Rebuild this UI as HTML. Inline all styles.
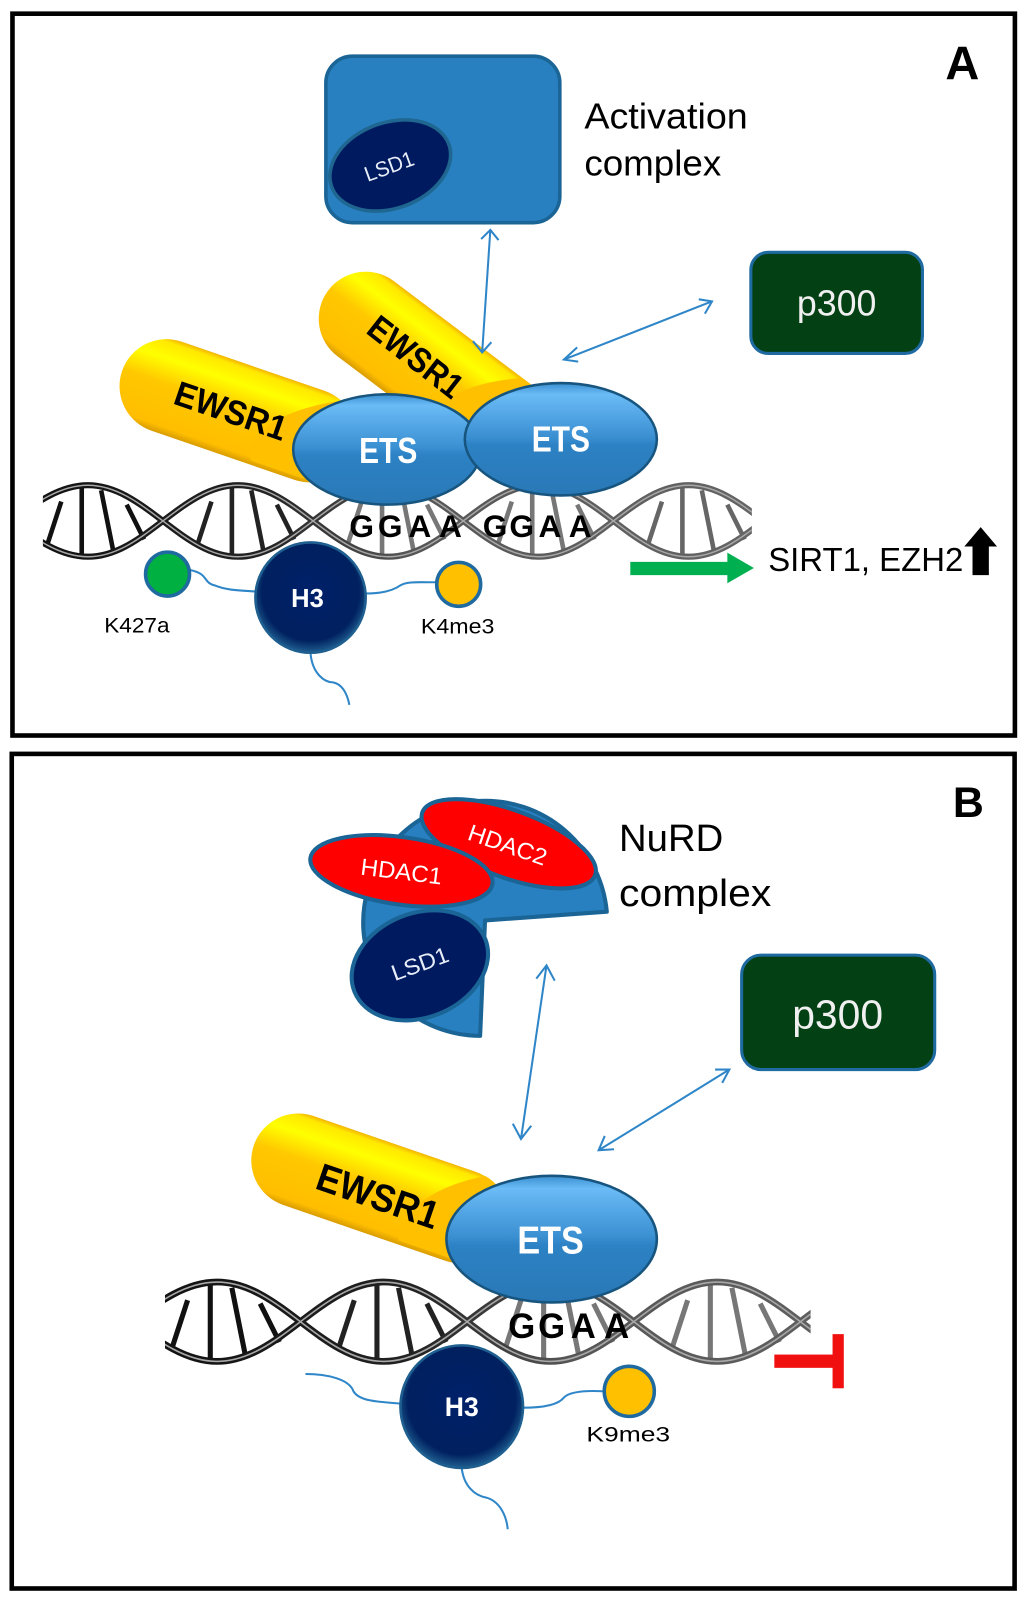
<!DOCTYPE html>
<html><head><meta charset="utf-8"><style>
html,body{margin:0;padding:0;background:#fff}
svg{display:block}
text{font-family:"Liberation Sans",sans-serif}
</style></head><body>
<svg width="1024" height="1603" viewBox="0 0 1002.4 1569.2" xmlns="http://www.w3.org/2000/svg">
<defs>
<linearGradient id="y" x1="0" y1="0" x2="0" y2="1">
<stop offset="0" stop-color="#f2b400"/><stop offset=".05" stop-color="#ffe800"/><stop offset=".22" stop-color="#ffff00"/><stop offset=".48" stop-color="#ffc800"/><stop offset=".92" stop-color="#ffbe00"/><stop offset="1" stop-color="#d89c00"/>
</linearGradient>
<linearGradient id="e" x1="0" y1="0" x2="0" y2="1">
<stop offset="0" stop-color="#3a8fd0"/><stop offset=".1" stop-color="#6abbf6"/><stop offset=".48" stop-color="#3b90d2"/><stop offset=".55" stop-color="#2c82c4"/><stop offset="1" stop-color="#2a78b6"/>
</linearGradient>
<radialGradient id="h" cx=".5" cy=".45" r=".55">
<stop offset="0" stop-color="#00206a"/><stop offset=".8" stop-color="#00205f"/><stop offset="1" stop-color="#1f5f90"/>
</radialGradient>
<linearGradient id="dg" gradientUnits="userSpaceOnUse" x1="-50" y1="0" x2="700" y2="0">
<stop offset="0" stop-color="#111"/><stop offset=".3" stop-color="#222"/><stop offset=".48" stop-color="#555"/><stop offset="1" stop-color="#666"/>
</linearGradient>
<clipPath id="ca"><rect x="42" y="465" width="694" height="90"/></clipPath>
<clipPath id="cb"><rect x="161.5" y="1240" width="632" height="100"/></clipPath>
<clipPath id="c1"><rect x="-46" y="-46" width="240" height="88" rx="44" transform="translate(163,378) rotate(19)"/></clipPath>
<clipPath id="c2"><rect x="-46" y="-46" width="260" height="88" rx="44" transform="translate(358,312) rotate(37)"/></clipPath>
<clipPath id="c3"><rect x="-46" y="-46" width="260" height="88" rx="44" transform="translate(292,1136) rotate(19)"/></clipPath>
<path id="rungs" fill="none" stroke-width="4.5" d="M-26,-19L-40,24M-6,-33V33M13,-30L25,30M38,-16L55,18"/>
<path id="s1" fill="none" d="M-150,0 C-95,0 -55,70 0,70 C55,70 92,0 147,0 C202,0 239,70 294,70 C349,70 386,0 441,0 C496,0 533,70 588,70 C643,70 680,0 735,0 C790,0 827,70 882,70"/>
<path id="s2" fill="none" d="M-150,70 C-95,70 -55,0 0,0 C55,0 92,70 147,70 C202,70 239,0 294,0 C349,0 386,70 441,70 C496,70 533,0 588,0 C643,0 680,70 735,70 C790,70 827,0 882,0"/>
<g id="dna">
<use href="#rungs" x="0" y="35" stroke="#111"/>
<use href="#rungs" x="147" y="35" stroke="#222"/>
<use href="#rungs" x="294" y="35" stroke="#777"/>
<use href="#rungs" x="441" y="35" stroke="#777"/>
<use href="#rungs" x="588" y="35" stroke="#666"/>
<use href="#rungs" x="735" y="35" stroke="#666"/>
<use href="#s1" stroke="url(#dg)" stroke-width="6"/>
<use href="#s2" stroke="url(#dg)" stroke-width="6"/>
<use href="#s1" stroke="#a8a8a8" stroke-width="1.4"/>
<use href="#s2" stroke="#a8a8a8" stroke-width="1.4"/>
</g>
</defs>
<rect width="1003" height="1570" fill="#fff"/>
<rect x="12.2" y="13.4" width="981.3" height="706.6" fill="none" stroke="#000" stroke-width="4.5"/>
<rect x="11.5" y="738" width="981.7" height="817" fill="none" stroke="#000" stroke-width="4.5"/>
<text x="942" y="78" font-size="46" font-weight="bold" text-anchor="middle">A</text>
<text x="948" y="800" font-size="42" font-weight="bold" text-anchor="middle">B</text>

<!-- Panel A -->
<rect x="319" y="55" width="229" height="163" rx="26" fill="#2880c0" stroke="#1a6496" stroke-width="3.5"/>
<ellipse cx="382" cy="162" rx="61" ry="42" transform="rotate(-20 382 162)" fill="#001a60" stroke="#1f6690" stroke-width="3.5"/>
<text x="381" y="170" font-size="21" fill="#e8eef8" text-anchor="middle" textLength="50" lengthAdjust="spacingAndGlyphs" transform="rotate(-20 381 163)">LSD1</text>
<text x="572" y="126" font-size="35" textLength="160" lengthAdjust="spacingAndGlyphs">Activation</text>
<text x="572" y="172" font-size="35" textLength="134" lengthAdjust="spacingAndGlyphs">complex</text>
<rect x="735" y="247" width="168" height="99" rx="17" fill="#034114" stroke="#1f6aa0" stroke-width="3"/>
<text x="819" y="309" font-size="35" fill="#f0f0f0" text-anchor="middle">p300</text>

<g clip-path="url(#ca)"><use href="#dna" transform="translate(86,475)"/></g>
<text x="354 382 411 441 484.6 510.7 538.4 568" y="525.7" font-size="31" font-weight="bold" text-anchor="middle" fill="#000">GGAAGGAA</text>

<g transform="translate(163,378) rotate(19)"><rect x="-46" y="-46" width="240" height="92" rx="46" fill="url(#y)"/></g>
<g clip-path="url(#c1)"><ellipse cx="370" cy="445" rx="125" ry="55" fill="#ffc000"/></g>
<text x="226" y="414" font-size="34" font-weight="bold" text-anchor="middle" textLength="114" lengthAdjust="spacingAndGlyphs" transform="rotate(19 226 402)">EWSR1</text>
<g transform="translate(358,312) rotate(37)"><rect x="-46" y="-46" width="260" height="92" rx="46" fill="url(#y)"/></g>
<g clip-path="url(#c2)"><ellipse cx="520" cy="445" rx="120" ry="75" fill="#ffc000"/></g>
<text x="407" y="361" font-size="34" font-weight="bold" text-anchor="middle" textLength="108" lengthAdjust="spacingAndGlyphs" transform="rotate(38 407 349)">EWSR1</text>
<ellipse cx="379" cy="440" rx="92" ry="54" fill="url(#e)" stroke="#17557f" stroke-width="2.5"/>
<text x="380" y="453" font-size="35" font-weight="bold" fill="#fff" text-anchor="middle" textLength="57" lengthAdjust="spacingAndGlyphs">ETS</text>
<ellipse cx="549" cy="430" rx="94" ry="55" fill="url(#e)" stroke="#17557f" stroke-width="2.5"/>
<text x="549" y="442" font-size="35" font-weight="bold" fill="#fff" text-anchor="middle" textLength="57" lengthAdjust="spacingAndGlyphs">ETS</text>

<g stroke="#2e86c8" stroke-width="2" fill="none">
<path d="M480,225L472,345M471,234L480,225L488,235M463,334L472,345L481,335"/>
<path d="M697,295L552,352M684,293L697,295L690,307M565,340L552,352L566,354"/>
<path d="M186,558C205,562 198,570 210,573C222,578 235,578 250,579"/>
<path d="M358,581C375,581 385,578 392,573C398,569 410,570 427,570"/>
<path d="M304,640C306,660 318,668 326,668C336,670 340,680 342,690"/>
</g>
<circle cx="164" cy="562" r="21.5" fill="#00b040" stroke="#1f6aa0" stroke-width="3.5"/>
<circle cx="449" cy="572" r="21.5" fill="#ffc000" stroke="#1f6aa0" stroke-width="3.5"/>
<circle cx="304" cy="585" r="54" fill="url(#h)" stroke="#1f5f90" stroke-width="2.5"/>
<text x="301" y="594" font-size="25" font-weight="bold" fill="#fff" text-anchor="middle">H3</text>
<text x="134" y="619" font-size="21" text-anchor="middle" textLength="64" lengthAdjust="spacingAndGlyphs">K427a</text>
<text x="448" y="620" font-size="21" text-anchor="middle" textLength="72" lengthAdjust="spacingAndGlyphs">K4me3</text>

<polygon points="617,550 712,550 712,541 738,556 712,571 712,563 617,563" fill="#00b050"/>
<text x="752" y="559" font-size="33" textLength="191" lengthAdjust="spacingAndGlyphs">SIRT1, EZH2</text>
<polygon points="960,516 976,535 968,535 968,563 952,563 952,535 944,535" fill="#000"/>

<!-- Panel B -->
<path d="M474.8,901L594,892.5A119.5,119.5 0 0 0 355.5,903A115,111 0 0 0 470,1014Z" fill="#2880c0" stroke="#1a6496" stroke-width="4" stroke-linejoin="round"/>
<ellipse cx="498" cy="826" rx="90" ry="33" transform="rotate(20 498 826)" fill="#ff0000" stroke="#1a6496" stroke-width="4"/>
<ellipse cx="393" cy="852.5" rx="90" ry="33" transform="rotate(8 393 852.5)" fill="#ff0000" stroke="#1a6496" stroke-width="4"/>
<ellipse cx="411" cy="945" rx="69" ry="51" transform="rotate(-22 411 945)" fill="#001a60" stroke="#1a6496" stroke-width="4"/>
<text x="393" y="861" font-size="23" fill="#fff" text-anchor="middle" textLength="80" lengthAdjust="spacingAndGlyphs" transform="rotate(7 393 853)">HDAC1</text>
<text x="497" y="835" font-size="23" fill="#fff" text-anchor="middle" textLength="80" lengthAdjust="spacingAndGlyphs" transform="rotate(19 497 827)">HDAC2</text>
<text x="411" y="951" font-size="22" fill="#e8eef8" text-anchor="middle" textLength="58" lengthAdjust="spacingAndGlyphs" transform="rotate(-20 411 943)">LSD1</text>
<text x="606" y="833" font-size="37" textLength="102" lengthAdjust="spacingAndGlyphs">NuRD</text>
<text x="606" y="887" font-size="37" textLength="149" lengthAdjust="spacingAndGlyphs">complex</text>
<rect x="726" y="935" width="189" height="112" rx="19" fill="#034114" stroke="#1f6aa0" stroke-width="3"/>
<text x="820" y="1007" font-size="40" fill="#f0f0f0" text-anchor="middle">p300</text>

<g stroke="#2e86c8" stroke-width="2" fill="none">
<path d="M535,945L510,1115M525,958L535,945L543,960M502,1100L510,1115L520,1102"/>
<path d="M714,1047L586,1126M700,1047L714,1047L707,1060M592,1112L586,1126L601,1125"/>
</g>

<g clip-path="url(#cb)"><use href="#dna" transform="translate(212.5,1255) scale(1.11)"/></g>
<text x="510.7 540 571 603.7" y="1310" font-size="34" font-weight="bold" text-anchor="middle">GGAA</text>

<g transform="translate(292,1136) rotate(19)"><rect x="-46" y="-46" width="260" height="92" rx="46" fill="url(#y)"/></g>
<g clip-path="url(#c3)"><ellipse cx="520" cy="1215" rx="130" ry="68" fill="#ffc000"/></g>
<text x="370" y="1184" font-size="38" font-weight="bold" text-anchor="middle" textLength="124" lengthAdjust="spacingAndGlyphs" transform="rotate(19 370 1171)">EWSR1</text>
<ellipse cx="540" cy="1213" rx="103" ry="62" fill="url(#e)" stroke="#17557f" stroke-width="2.5"/>
<text x="539" y="1227" font-size="38" font-weight="bold" fill="#fff" text-anchor="middle" textLength="65" lengthAdjust="spacingAndGlyphs">ETS</text>

<g stroke="#2e86c8" stroke-width="2" fill="none">
<path d="M392,1374C370,1372 352,1372 346,1362C342,1350 320,1345 299,1345"/>
<path d="M512,1378C530,1378 546,1376 552,1368C558,1362 575,1361 592,1362"/>
<path d="M452,1437C454,1455 465,1464 476,1466C490,1470 496,1485 497,1497"/>
</g>
<circle cx="616" cy="1362" r="24.5" fill="#ffc000" stroke="#1f6aa0" stroke-width="3.5"/>
<circle cx="452" cy="1377" r="60" fill="url(#h)" stroke="#1f5f90" stroke-width="2.5"/>
<text x="452" y="1386" font-size="26" font-weight="bold" fill="#fff" text-anchor="middle">H3</text>
<text x="615" y="1411" font-size="21" text-anchor="middle" textLength="82" lengthAdjust="spacingAndGlyphs">K9me3</text>
<rect x="758" y="1326" width="62" height="13" fill="#f01010"/>
<rect x="815" y="1306" width="11" height="53" fill="#f01010"/>
</svg>
</body></html>
